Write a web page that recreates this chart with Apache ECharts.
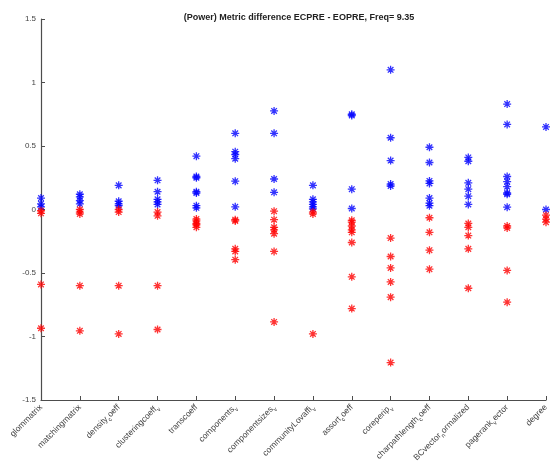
<!DOCTYPE html>
<html>
<head>
<meta charset="utf-8">
<script src="https://cdn.jsdelivr.net/npm/echarts@6/dist/echarts.min.js"></script>
<style>html,body{margin:0;padding:0;background:#fff}#c{width:553px;height:473px}</style>
</head>
<body>
<div id="c"></div>
<script>
const categories = ['glommatrix','matchingmatrix','density_coeff','clusteringcoeff_v','transcoeff','components_v','componentsizes_v','communityLovaffi_v','assort_coeff','coreperip_v','charpathlength_coeff','BCvector_normalized','pagerank_vector','degree'];
const titleText = '(Power) Metric difference ECPRE - EOPRE, Freq= 9.35';
const yTicks = [-1.5, -1, -0.5, 0, 0.5, 1, 1.5];
const blueValues = [
  [0.09, 0.045, 0.02],
  [0.12, 0.10, 0.07, 0.045],
  [0.19, 0.065, 0.045, 0.03],
  [0.23, 0.14, 0.08, 0.06, 0.04],
  [0.42, 0.26, 0.25, 0.14, 0.13, 0.03, 0.013],
  [0.6, 0.455, 0.433, 0.4, 0.223, 0.021],
  [0.776, 0.6, 0.24, 0.135],
  [0.19, 0.08, 0.06, 0.04, 0.02, 0.005],
  [0.75, 0.74, 0.16, 0.008],
  [1.1, 0.565, 0.385, 0.2, 0.185],
  [0.49, 0.37, 0.225, 0.205, 0.09, 0.05, 0.03],
  [0.41, 0.38, 0.21, 0.16, 0.105, 0.04],
  [0.83, 0.67, 0.26, 0.22, 0.18, 0.13, 0.12, 0.018],
  [0.65, 0.0]
];
const redValues = [
  [-0.01, -0.03, -0.59, -0.935],
  [0.0, -0.02, -0.035, -0.6, -0.955],
  [0.0, -0.02, -0.6, -0.98],
  [-0.02, -0.05, -0.6, -0.945],
  [-0.075, -0.09, -0.11, -0.12, -0.14],
  [-0.08, -0.09, -0.31, -0.33, -0.395],
  [-0.013, -0.08, -0.14, -0.16, -0.19, -0.33, -0.885],
  [-0.02, -0.035, -0.98],
  [-0.085, -0.1, -0.13, -0.16, -0.18, -0.26, -0.53, -0.78],
  [-0.225, -0.37, -0.46, -0.57, -0.69, -1.205],
  [-0.065, -0.18, -0.32, -0.47],
  [-0.11, -0.14, -0.205, -0.31, -0.62],
  [-0.13, -0.145, -0.48, -0.73],
  [-0.045, -0.075, -0.1]
];

function toPoints(groups) {
  const out = [];
  groups.forEach((vals, i) => vals.forEach(v => out.push([i, v])));
  return out;
}
const star = 'path://M0,-5L0,5M-5,0L5,0M-3.5,-3.5L3.5,3.5M-3.5,3.5L3.5,-3.5';
function fmtLabel(name) {
  const idx = name.indexOf('_');
  if (idx < 0) return '{n|' + name + '}';
  const rest = name.slice(idx + 1);
  return '{n|' + name.slice(0, idx) + '}{s|' + rest[0] + '}' + (rest.length > 1 ? '{n|' + rest.slice(1) + '}' : '');
}
const chart = echarts.init(document.getElementById('c'));
const axisColor = '#4d4d4d';
const font = 'Liberation Sans, Arial';
chart.setOption({
  animation: false,
  backgroundColor: '#fff',
  title: {
    text: titleText, left: 294, top: 8, textAlign: 'center',
    textStyle: {fontFamily: font, fontSize: 9, fontWeight: 'bold', color: '#222'}
  },
  grid: {left: 41, right: 7, top: 19, bottom: 73, containLabel: false},
  xAxis: {
    type: 'category', data: categories, boundaryGap: false,
    axisLine: {onZero: false, lineStyle: {color: axisColor, width: 1.2}},
    axisTick: {inside: true, length: 4, alignWithLabel: true, lineStyle: {color: axisColor}},
    axisLabel: {
      rotate: 45, margin: 6, interval: 0, color: '#444',
      fontFamily: font, fontSize: 8.5,
      formatter: fmtLabel,
      rich: {
        n: {fontSize: 8.5, color: '#444', fontFamily: font},
        s: {fontSize: 6, color: '#444', fontFamily: font, padding: [7, 0, 0, 0]}
      }
    },
    splitLine: {show: false}
  },
  yAxis: {
    type: 'value', min: -1.5, max: 1.5, interval: 0.5,
    axisLine: {show: true, onZero: false, lineStyle: {color: axisColor, width: 1.2}},
    axisTick: {show: true, inside: true, length: 4, lineStyle: {color: axisColor}},
    axisLabel: {
      margin: 5, color: '#444', fontFamily: font, fontSize: 8,
      formatter: v => (yTicks.indexOf(v) >= 0 ? String(v) : '')
    },
    splitLine: {show: false}
  },
  series: [
    {
      type: 'scatter', data: toPoints(blueValues), symbol: star, symbolSize: 8,
      itemStyle: {color: 'rgba(0,0,0,0)', borderColor: '#0000ff', borderWidth: 1.3}
    },
    {
      type: 'scatter', data: toPoints(redValues), symbol: star, symbolSize: 8,
      itemStyle: {color: 'rgba(0,0,0,0)', borderColor: '#ff0000', borderWidth: 1.3}
    }
  ]
});
</script>
</body>
</html>
